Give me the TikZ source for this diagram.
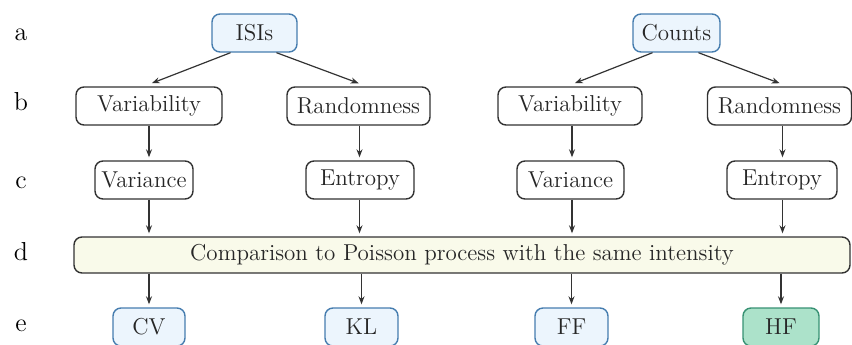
\documentclass[tikz,border=0pt]{standalone}
\usetikzlibrary{arrows.meta}
\definecolor{bluedraw}{RGB}{70,125,175}
\definecolor{bluefill}{RGB}{236,245,253}
\definecolor{greendraw}{RGB}{55,145,115}
\definecolor{greenfill}{RGB}{172,226,202}
\definecolor{yelfill}{RGB}{249,250,234}
\definecolor{boxdraw}{RGB}{50,50,50}
\begin{document}
\begin{tikzpicture}[x=0.5pt,y=-0.5pt,
  every node/.style={font=\fontsize{11.5}{13}\selectfont, text=black!85},
  base/.style={rounded corners=4pt, line width=0.7pt, inner sep=0pt, minimum height=19pt},
  topbox/.style={base, draw=bluedraw, fill=bluefill},
  midbox/.style={base, draw=boxdraw, fill=white},
  bandbox/.style={base, draw=boxdraw, fill=yelfill, minimum height=18pt},
  outbox/.style={base, draw=bluedraw, fill=bluefill},
  hfbox/.style={base, draw=greendraw, fill=greenfill},
  rowlab/.style={font=\fontsize{13}{15}\selectfont, text=black},
  conn/.style={-{Stealth[length=4pt,width=3pt]}, line width=0.6pt, draw=black!80, shorten >=1.5pt}
]
\useasboundingbox (0,0) rectangle (852,344);
% row labels
\node[rowlab] (la) at (21,35) {a};
\node[rowlab] (lb) at (21,102) {b};
\node[rowlab] (lc) at (21,183) {c};
\node[rowlab] (ld) at (21,252) {d};
\node[rowlab] (le) at (21,326) {e};
% row a
\node[topbox, minimum width=42.5pt] (isis) at (254.5,33) {ISIs};
\node[topbox, minimum width=43.5pt] (counts) at (676.5,33) {Counts};
% row b
\node[midbox, minimum width=73pt] (varl) at (149,106) {Variability};
\node[midbox, minimum width=71.5pt] (ranl) at (358.5,106) {Randomness};
\node[midbox, minimum width=72pt] (varr) at (570,106) {Variability};
\node[midbox, minimum width=72pt] (ranr) at (779.5,106) {Randomness};
% row c
\node[midbox, minimum width=49pt] (vcl) at (144,180) {Variance};
\node[midbox, minimum width=54pt] (ecl) at (360,180) {Entropy};
\node[midbox, minimum width=53.5pt] (vcr) at (570.5,180) {Variance};
\node[midbox, minimum width=55pt] (ecr) at (782,180) {Entropy};
% row d
\node[bandbox, minimum width=388pt] (cmp) at (462,255) {Comparison to Poisson process with the same intensity};
% row e
\node[outbox, minimum width=36pt] (cv) at (149,327) {CV};
\node[outbox, minimum width=36.5pt] (kl) at (361.5,327) {KL};
\node[outbox, minimum width=36.5pt] (ff) at (571.5,327) {FF};
\node[hfbox, minimum width=38pt] (hf) at (781,327) {HF};
% connectors a -> b
\draw[conn] ([xshift=-12pt]isis.south) -- ([yshift=1pt]varl.north);
\draw[conn] ([xshift=11pt]isis.south) -- ([xshift=1.5pt,yshift=1pt]ranl.north);
\draw[conn] ([xshift=-12pt]counts.south) -- ([xshift=1pt,yshift=1pt]varr.north);
\draw[conn] ([xshift=11pt]counts.south) -- ([xshift=1.5pt,yshift=1pt]ranr.north);
% b -> c
\draw[conn] (varl.south) -- (varl.south |- vcl.north);
\draw[conn] ([xshift=0.5pt]ranl.south) -- ([xshift=0.5pt]ranl.south |- ecl.north);
\draw[conn] ([xshift=1pt]varr.south) -- ([xshift=1pt]varr.south |- vcr.north);
\draw[conn] ([xshift=1.5pt]ranr.south) -- ([xshift=1.5pt]ranr.south |- ecr.north);
% c -> d
\draw[conn] (varl.south |- vcl.south) -- (varl.south |- cmp.north);
\draw[conn] ([xshift=0.5pt]ranl.south |- ecl.south) -- ([xshift=0.5pt]ranl.south |- cmp.north);
\draw[conn] ([xshift=1pt]varr.south |- vcr.south) -- ([xshift=1pt]varr.south |- cmp.north);
\draw[conn] ([xshift=1.5pt]ranr.south |- ecr.south) -- ([xshift=1.5pt]ranr.south |- cmp.north);
% d -> e
\draw[conn] (cv.north |- cmp.south) -- (cv.north);
\draw[conn] (kl.north |- cmp.south) -- (kl.north);
\draw[conn] (ff.north |- cmp.south) -- (ff.north);
\draw[conn] (hf.north |- cmp.south) -- (hf.north);
\end{tikzpicture}
\end{document}
